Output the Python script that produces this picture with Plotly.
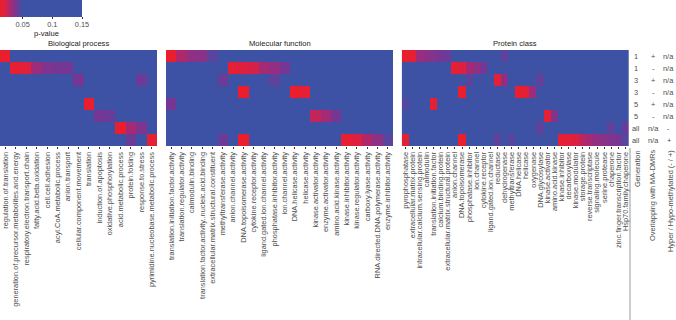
import plotly.graph_objects as go

N = 0.15  # non-significant p-value (top of colour scale)

bp_terms = ["regulation.of.translation", "generation.of.precursor.metabolites.and.energy",
            "respiratory.electron.transport.chain", "fatty.acid.beta.oxidation", "cell.cell.adhesion",
            "acyl.CoA.metabolic.process", "anion.transport", "cellular.component.movement", "translation",
            "induction.of.apoptosis", "oxidative.phosphorylation", "acid.metabolic.process",
            "protein.folding", "response.to.stress", "pyrimidine.nucleobase.metabolic.process"]
mf_terms = ["translation.initiation.factor.activity", "translation.regulator.activity", "calmodulin.binding",
            "translation.factor.activity..nucleic.acid.binding", "extracellular.matrix.structural.constituent",
            "methyltransferase.activity", "anion.channel.activity", "DNA.topoisomerase.activity",
            "cytokine.receptor.activity", "ligand.gated.ion.channel.activity", "phosphatase.inhibitor.activity",
            "ion.channel.activity", "DNA.helicase.activity", "helicase.activity", "kinase.activator.activity",
            "enzyme.activator.activity", "amino.acid.kinase.activity", "kinase.inhibitor.activity",
            "kinase.regulator.activity", "carboxy.lyase.activity", "RNA.directed.DNA.polymerase.activity",
            "enzyme.inhibitor.activity"]
pc_terms = ["pyrophosphatase", "extracellular.matrix.protein", "intracellular.calcium.sensing.protein",
            "calmodulin", "translation.initiation.factor", "calcium.binding.protein",
            "extracellular.matrix.structural.protein", "anion.channel", "DNA.topoisomerase",
            "phosphatase.inhibitor", "ion.channel", "cytokine.receptor", "ligand.gated.ion.channel",
            "reductase", "dehydrogenase", "methyltransferase", "DNA.helicase", "helicase", "oxygenase",
            "DNA.glycosylase", "kinase.activator", "amino.acid.kinase", "kinase.inhibitor", "decarboxylase",
            "kinase.modulator", "storage.protein", "reverse.transcriptase", "signaling.molecule",
            "serine.protease", "chaperone", "zinc.finger.transcription.factor", "Hsp70.family.chaperone"]

generation = ["1", "1", "3", "3", "5", "5", "all", "all"]
overlapping = ["+", "-", "+", "-", "+", "-", "n/a", "n/a"]
hyper_hypo = ["n/a", "n/a", "n/a", "n/a", "n/a", "n/a", "-", "+"]
row_headers = ["Generation", "Overlapping with MA-DMRs", "Hyper / Hypo-methylated (- / +)"]

bp_p = [
    [0.013] + [N] * 14,
    [N, 0.015, 0.018, 0.032, 0.038, 0.040, 0.040] + [N] * 8,
    [N] * 7 + [0.040] + [N] * 5 + [0.042, N],
    [N] * 15,
    [N] * 8 + [0.014] + [N] * 6,
    [N] * 9 + [0.040, 0.042] + [N] * 4,
    [N] * 11 + [0.014, 0.030, 0.038, N],
    [N] * 12 + [0.042, N, 0.016],
]
mf_p = [
    [0.014, 0.028, 0.035, 0.036, 0.045] + [N] * 17,
    [N] * 6 + [0.016, 0.020, 0.022, 0.030, 0.034, 0.040] + [N] * 10,
    [N] * 5 + [0.042] + [N] * 4 + [0.044] + [N] * 11,
    [N] * 7 + [0.013] + [N] * 4 + [0.013, 0.015] + [N] * 8,
    [0.040] + [N] * 21,
    [N] * 14 + [0.025, 0.030, 0.040] + [N] * 5,
    [N] * 22,
    [N] * 5 + [0.042, N, 0.013] + [N] * 9 + [0.015, 0.020, 0.028, 0.035, 0.045],
]
pc_p = [
    [0.014, 0.016, 0.032, 0.035, 0.038, 0.040, 0.042] + [N] * 7 + [0.044] + [N] * 17,
    [N] * 7 + [0.015, 0.020, 0.030, 0.035, 0.040] + [N] * 20,
    [N] * 9 + [0.045] + [N] * 3 + [0.016, 0.035] + [N] * 4 + [0.044] + [N] * 12,
    [N] * 8 + [0.014] + [N] * 7 + [0.014, 0.016, 0.032] + [N] * 13,
    [0.046] + [N] * 3 + [0.016] + [N] * 27,
    [N] * 20 + [0.016, 0.038] + [N] * 10,
    [N] * 19 + [0.044] + [N] * 9 + [0.044, N, 0.042],
    [0.016] + [N] * 7 + [0.014] + [N] * 4 + [0.044, N, 0.045] + [N] * 6
    + [0.016, 0.018, 0.020, 0.026, 0.030, 0.034, 0.036, 0.038, 0.040, 0.046],
]

W, H = 676, 320
def px(x): return x / W
def py(y): return 1 - y / H

ZMIN, ZMAX = 0.012, 0.15
def t(v): return (v - ZMIN) / (ZMAX - ZMIN)
BLUE = "rgb(62,82,165)"
colorscale = [[0, "rgb(236,30,42)"], [t(0.02), "rgb(222,32,62)"], [t(0.03), "rgb(165,42,118)"],
              [t(0.04), "rgb(118,55,148)"], [t(0.05), BLUE], [1, BLUE]]

TXT = "#4d4d4d"
FONT = "Liberation Sans, Arial, sans-serif"
panels = [(bp_terms, bp_p, 0, 157), (mf_terms, mf_p, 166, 393), (pc_terms, pc_p, 401.7, 629)]
titles = ["Biological process", "Molecular function", "Protein class"]

fig = go.Figure()
layout = {}
annotations = []
for i, (terms, z, x0, x1) in enumerate(panels):
    k = "" if i == 0 else str(i + 1)
    fig.add_trace(go.Heatmap(z=z, x=list(range(len(terms))), y=list(range(8)),
                             coloraxis="coloraxis", xaxis="x" + k, yaxis="y" + k,
                             hovertemplate="%{z}<extra></extra>"))
    layout["xaxis" + k] = dict(domain=[px(x0), px(x1)], anchor="y" + k, range=[-0.5, len(terms) - 0.5],
                               tickmode="array", tickvals=list(range(len(terms))), ticktext=terms,
                               tickangle=-90, tickfont=dict(size=7.4, color=TXT, family=FONT),
                               ticks="outside", ticklen=2, tickcolor="#333", tickwidth=0.6,
                               showgrid=False, zeroline=False, showline=False, automargin=False)
    layout["yaxis" + k] = dict(domain=[py(146), py(50)], anchor="x" + k, range=[7.5, -0.5],
                               showticklabels=False, showgrid=False, zeroline=False, ticks="",
                               automargin=False)
    annotations.append(dict(x=px((x0 + x1) / 2), y=py(43), xref="paper", yref="paper",
                            text=titles[i], showarrow=False, xanchor="center", yanchor="middle",
                            font=dict(size=7.6, color="#1a1a1a", family=FONT)))

for r in range(8):
    for xpos, arr in [(635.5, generation), (653, overlapping), (668.5, hyper_hypo)]:
        annotations.append(dict(x=px(xpos), y=r, xref="paper", yref="y3", text=arr[r],
                                showarrow=False, xanchor="center", yanchor="middle",
                                font=dict(size=7.4, color=TXT, family=FONT)))
for xpos, txt in zip([637.5, 652.5, 670], row_headers):
    annotations.append(dict(x=px(xpos), y=py(148), xref="paper", yref="paper", text=txt,
                            textangle=-90, showarrow=False, xanchor="center", yanchor="top",
                            font=dict(size=7.4, color=TXT, family=FONT)))
annotations.append(dict(x=px(46), y=py(34), xref="paper", yref="paper", text="p-value",
                        showarrow=False, xanchor="center", yanchor="middle",
                        font=dict(size=7.6, color="#1a1a1a", family=FONT)))

fig.update_layout(
    width=W, height=H, margin=dict(l=0, r=0, t=0, b=0),
    paper_bgcolor="white", plot_bgcolor="white",
    font=dict(family=FONT, color=TXT),
    coloraxis=dict(cmin=ZMIN, cmax=ZMAX, colorscale=colorscale,
                   colorbar=dict(orientation="h", x=0, xanchor="left", y=1, yanchor="top",
                                 lenmode="pixels", len=82, thickness=17, xpad=0, ypad=0,
                                 outlinewidth=0, tickvals=[0.05, 0.1, 0.15],
                                 ticktext=["0.05", "0.1", "0.15"], ticks="outside", ticklen=2,
                                 tickcolor="#333", tickfont=dict(size=7.4, color=TXT, family=FONT),
                                 title=dict(text=""))),
    annotations=annotations,
    shapes=[dict(type="line", xref="paper", yref="paper", x0=px(630), x1=px(630),
                 y0=py(148), y1=py(320), line=dict(color="#999999", width=1))],
    showlegend=False,
    **layout,
)
fig.write_html("out.html", config={"displayModeBar": False},
               post_script="document.body.style.margin='0';document.body.style.overflow='hidden';")
